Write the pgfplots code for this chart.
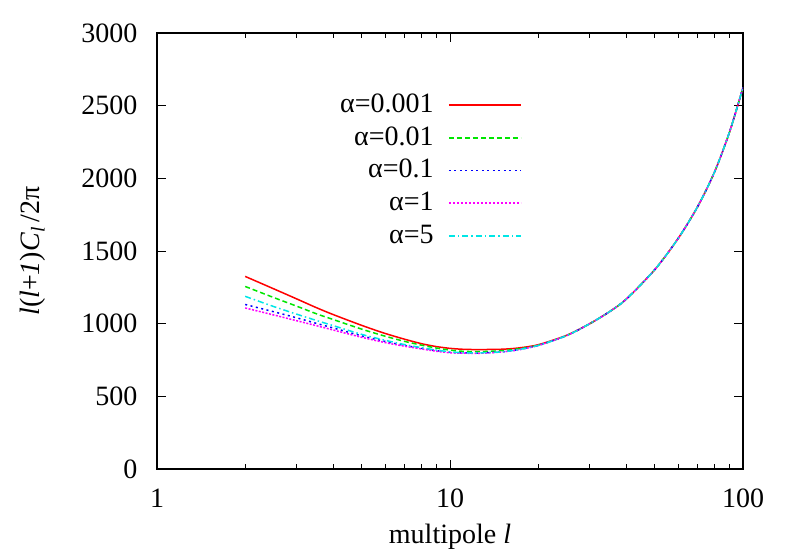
\documentclass[border=0pt]{standalone}
\usepackage{fontspec}
\setmainfont{Liberation Serif}
\usepackage{pgfplots}
\pgfplotsset{compat=1.18}

\definecolor{gred}{RGB}{255,0,0}
\definecolor{ggreen}{RGB}{0,230,0}
\definecolor{gblue}{RGB}{0,0,255}
\definecolor{gmag}{RGB}{255,0,255}
\definecolor{gcyan}{RGB}{0,230,230}

\begin{document}
\fontsize{28bp}{34bp}\selectfont
\begin{tikzpicture}[x=1bp,y=1bp]
\useasboundingbox (0,0) rectangle (790,553);
\begin{axis}[
    at={(157bp,84bp)}, anchor=south west,
    scale only axis,
    width=586bp, height=436bp,
    xmode=log,
    xmin=1, xmax=100,
    ymin=0, ymax=3000,
    xtick={1,10,100},
    xticklabels={1,10,100},
    ytick={0,500,1000,1500,2000,2500,3000},
    /pgf/number format/assume math mode=true,
    /pgf/number format/1000 sep={},
    tick label style={font=\fontsize{28bp}{34bp}\selectfont},
    xticklabel style={yshift=-10bp},
    yticklabel style={xshift=-10bp},
    label style={font=\fontsize{28bp}{34bp}\selectfont},
    tick align=inside,
    major tick length=9bp,
    minor tick length=5bp,
    axis line style={line width=1.2bp},
    every tick/.style={black, line width=0.8bp},
    xlabel={multipole \textit{l}},
    ylabel={\textit{l}(\textit{l}+\textit{1})\textit{C}\textsubscript{\textit{l}}\,/2π},
    xlabel style={at={(0.5,0)}, anchor=north, yshift=-46bp},
    ylabel style={at={(0,0.5)}, anchor=south, yshift=102bp},
    legend style={draw=none, fill=none, at={(0.623,0.866)}, anchor=north east,
      font=\fontsize{28bp}{34bp}\selectfont, row sep=6bp, inner sep=0pt,
      nodes={inner xsep=14bp, text=black}},
    legend cell align=right,
    legend plot pos=right,
    every axis plot/.append style={line width=1.5bp, smooth, tension=0.5},
]
\addplot[color=gred, draw=gred,
  legend image code/.code={\draw[gred, line width=1.7bp] (0bp,0bp) -- (72bp,0bp);}] coordinates {
 (2,1325)(2.5,1240)(3,1170)(3.5,1110)(4,1062)(5,988)(6,933)(7,893)(8,862)(9,842)(10,830)
 (11,824)(12,822)(13,822)(15,824)(17,832)(20,855)(25,920)(30,1000)(35,1082)(40,1170)
 (50,1372)(60,1585)(70,1805)(80,2045)(90,2320)(100,2625)};
\addlegendentry{α=0.001}
\addplot[color=ggreen, draw=ggreen, dash pattern=on 5bp off 3bp,
  legend image code/.code={\draw[ggreen, line width=1.7bp, dash pattern=on 5bp off 3bp] (0bp,0bp) -- (72bp,0bp);}] coordinates {
 (2,1256)(2.5,1180)(3,1120)(3.5,1068)(4,1028)(5,962)(6,914)(7,878)(8,852)(9,832)(10,818)
 (11,810)(12,808)(13,808)(15,814)(17,826)(20,852)(25,918)(30,1000)(35,1082)(40,1170)
 (50,1372)(60,1585)(70,1805)(80,2045)(90,2320)(100,2625)};
\addlegendentry{α=0.01}
\addplot[color=gblue, draw=gblue, dash pattern=on 2bp off 3.5bp,
  legend image code/.code={\draw[gblue, line width=1.7bp, dash pattern=on 2bp off 3.5bp] (0bp,0bp) -- (72bp,0bp);}] coordinates {
 (2,1132)(2.5,1082)(3,1040)(3.5,1002)(4,970)(5,916)(6,878)(7,850)(8,830)(9,814)(10,803)
 (11,799)(12,798)(13,799)(15,806)(17,820)(20,850)(25,918)(30,1000)(35,1082)(40,1170)
 (50,1372)(60,1585)(70,1805)(80,2045)(90,2320)(100,2625)};
\addlegendentry{α=0.1}
\addplot[color=gmag, draw=gmag, dash pattern=on 2bp off 1.5bp,
  legend image code/.code={\draw[gmag, line width=2.2bp, dash pattern=on 2.5bp off 1.5bp] (0bp,0bp) -- (72bp,0bp);}] coordinates {
 (2,1108)(2.5,1060)(3,1020)(3.5,986)(4,956)(5,906)(6,870)(7,845)(8,826)(9,810)(10,800)
 (11,797)(12,796)(13,797)(15,805)(17,819)(20,850)(25,918)(30,1000)(35,1082)(40,1170)
 (50,1372)(60,1585)(70,1805)(80,2045)(90,2320)(100,2625)};
\addlegendentry{α=1}
\addplot[color=gcyan, draw=gcyan, dash pattern=on 6bp off 3bp on 1.5bp off 3bp,
  legend image code/.code={\draw[gcyan, line width=1.7bp, dash pattern=on 6bp off 3bp on 1.5bp off 3bp] (0bp,0bp) -- (72bp,0bp);}] coordinates {
 (2,1188)(2.5,1118)(3,1065)(3.5,1022)(4,986)(5,926)(6,886)(7,856)(8,835)(9,818)(10,806)
 (11,800)(12,799)(13,800)(15,806)(17,820)(20,850)(25,918)(30,1000)(35,1082)(40,1170)
 (50,1372)(60,1585)(70,1805)(80,2045)(90,2320)(100,2625)};
\addlegendentry{α=5}
\end{axis}
\end{tikzpicture}
\end{document}
